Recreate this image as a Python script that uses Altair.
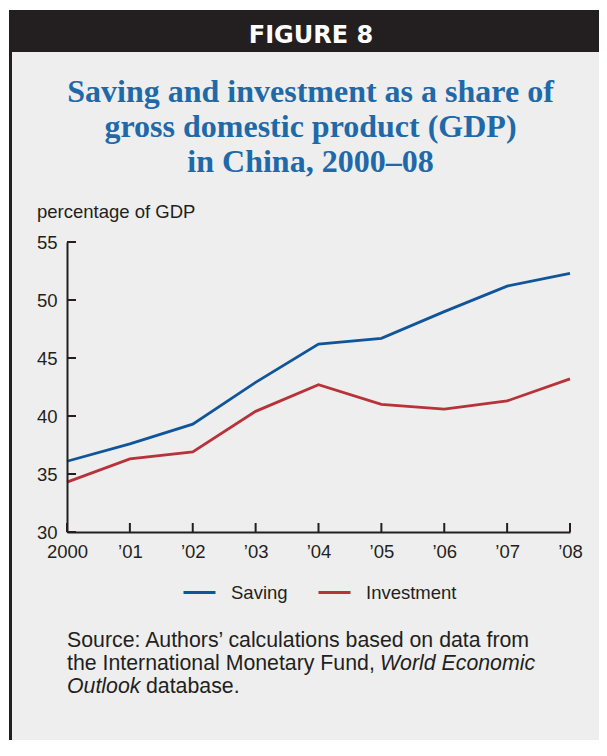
import altair as alt
import pandas as pd

# ---- data ----
years = [2000, 2001, 2002, 2003, 2004, 2005, 2006, 2007, 2008]
year_labels = ["2000", "’01", "’02", "’03", "’04", "’05", "’06", "’07", "’08"]
saving = [36.1, 37.6, 39.3, 42.9, 46.2, 46.7, 49.0, 51.2, 52.3]
investment = [34.3, 36.3, 36.9, 40.4, 42.7, 41.0, 40.6, 41.3, 43.2]
series_names = ["Saving", "Investment"]
series_colors = ["#10559a", "#b73239"]
y_ticks = [30, 35, 40, 45, 50, 55]

title_lines = ["Saving and investment as a share of",
               "gross domestic product (GDP)",
               "in China, 2000–08"]

rows = []
for lab, s, i in zip(year_labels, saving, investment):
    rows.append({"label": lab, "series": "Saving", "value": s})
    rows.append({"label": lab, "series": "Investment", "value": i})
df = pd.DataFrame(rows)

W, H = 503, 290
INK = "#231f20"
SANS = "Liberation Sans"
one = alt.Data(values=[{}])

xscale = alt.Scale(type="point", padding=0, domain=year_labels)
yscale = alt.Scale(domain=[30, 55], zero=False, nice=False)

xaxis = alt.Axis(title=None, labelAngle=0, ticks=False, tickSize=0, zindex=2,
                 labelPadding=10, domainColor=INK, domainWidth=2,
                 labelFont=SANS, labelFontSize=18.5, labelColor=INK, grid=False)
yaxis = alt.Axis(title=None, values=y_ticks, ticks=False, tickSize=0, zindex=2,
                 labelPadding=10, domainColor=INK, domainWidth=2,
                 labelFont=SANS, labelFontSize=18.5, labelColor=INK, grid=False)

# ---- decoration (panel, header, border) ----
panel = alt.Chart(one).mark_rect(color="#eeeeee").encode(
    x=alt.value(-58), x2=alt.value(560), y=alt.value(-232), y2=alt.value(560))
header = alt.Chart(one).mark_rect(color=INK).encode(
    x=alt.value(-58), x2=alt.value(560), y=alt.value(-232), y2=alt.value(-190))
border = alt.Chart(one).mark_rect(color=INK).encode(
    x=alt.value(-58), x2=alt.value(-55), y=alt.value(-232), y2=alt.value(560))
fig_label = alt.Chart(one).mark_text(
    font="DejaVu Sans", fontWeight="bold", fontSize=24, color="white",
    align="center", baseline="alphabetic").encode(
    x=alt.value(244), y=alt.value(-199.5), text=alt.value("FIGURE 8"))
title = alt.Chart(one).mark_text(
    font="Liberation Serif", fontWeight="bold", fontSize=32, color="#1f69a9",
    align="center", baseline="alphabetic", lineHeight=35).encode(
    x=alt.value(243.5), y=alt.value(-140.3), text=alt.value(title_lines))
ylab = alt.Chart(one).mark_text(
    font=SANS, fontSize=18.5, color=INK, align="left", baseline="alphabetic").encode(
    x=alt.value(-30), y=alt.value(-24), text=alt.value("percentage of GDP"))

# ---- lines ----
lines = alt.Chart(df).mark_line(strokeWidth=2.8).encode(
    x=alt.X("label:O", scale=xscale, sort=year_labels, axis=xaxis),
    y=alt.Y("value:Q", scale=yscale, axis=yaxis),
    color=alt.Color("series:N", scale=alt.Scale(domain=series_names, range=series_colors),
                    sort=series_names,
                    legend=alt.Legend(title=None, orient="none", legendX=115, legendY=333,
                                      direction="horizontal", symbolType="stroke",
                                      symbolSize=1024, symbolStrokeWidth=3,
                                      labelFont=SANS, labelFontSize=18.5, labelColor=INK,
                                      labelOffset=14, columnPadding=24, padding=0)),
    order=alt.Order("label:O"),
)

# ---- inward ticks ----
ytick_df = pd.DataFrame({"value": y_ticks})
yticks = alt.Chart(ytick_df).mark_rule(color=INK, strokeWidth=2).encode(
    y=alt.Y("value:Q", scale=yscale, axis=yaxis), x=alt.value(0), x2=alt.value(9))
xtick_df = pd.DataFrame({"label": year_labels})
xticks = alt.Chart(xtick_df).mark_rule(color=INK, strokeWidth=2).encode(
    x=alt.X("label:O", scale=xscale, sort=year_labels, axis=xaxis),
    y=alt.value(H), y2=alt.value(H - 9))

# ---- source note ----
src_style = dict(font=SANS, fontSize=21.3, color=INK, align="left", baseline="alphabetic")
src1 = alt.Chart(one).mark_text(**src_style).encode(
    x=alt.value(0), y=alt.value(404.7),
    text=alt.value("Source: Authors’ calculations based on data from"))
src2a = alt.Chart(one).mark_text(**src_style).encode(
    x=alt.value(0), y=alt.value(427.5),
    text=alt.value("the International Monetary Fund,"))
src2b = alt.Chart(one).mark_text(fontStyle="italic", **src_style).encode(
    x=alt.value(313), y=alt.value(427.5), text=alt.value("World Economic"))
src3a = alt.Chart(one).mark_text(fontStyle="italic", **src_style).encode(
    x=alt.value(0), y=alt.value(450.7), text=alt.value("Outlook"))
src3b = alt.Chart(one).mark_text(**src_style).encode(
    x=alt.value(79), y=alt.value(450.7), text=alt.value("database."))

chart = alt.layer(
    panel, header, border, fig_label, title, ylab,
    lines, yticks, xticks, src1, src2a, src2b, src3a, src3b
).properties(
    width=W, height=H,
    padding={"left": 59, "top": 234, "right": 29, "bottom": 208},
    autosize=alt.AutoSizeParams(type="none"),
    background="white",
).configure_view(stroke=None)

chart.save("out.html", embed_options={"renderer": "svg", "actions": False})
